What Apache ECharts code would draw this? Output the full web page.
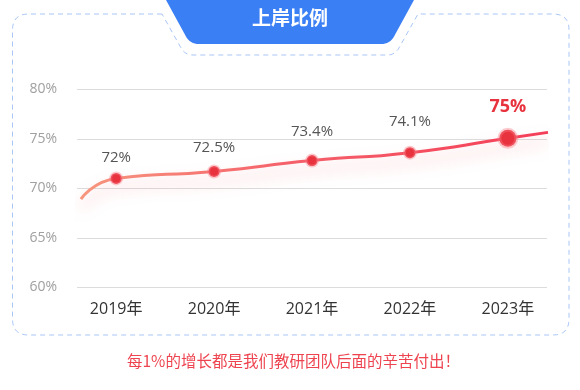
<!DOCTYPE html>
<html>
<head>
<meta charset="utf-8">
<script src="https://cdn.jsdelivr.net/npm/echarts@6/dist/echarts.min.js"></script>
<style>
html,body{margin:0;padding:0;background:#fff;}
#c{width:580px;height:390px;}
</style>
</head>
<body>
<div id="c"></div>
<script>
// ---- data ----
const title = '上岸比例';
const footer = '每1%的增长都是我们教研团队后面的辛苦付出！';
const categories = ['2019年', '2020年', '2021年', '2022年', '2023年'];
const labelValues = [72, 72.5, 73.4, 74.1, 75];          // printed labels
const plotValues = [71.0, 71.7, 72.8, 73.6, 75.05];        // drawn line heights
const leadIn = [-0.36, 68.9];   // line start before first year
const leadOut = [4.41, 75.65];  // line end after last year
const yMin = 60, yMax = 80, yStep = 5;

// ---- style config (not data) ----
const labelLift = [21, 24, 28.5, 31, 31];
const FONT = "'Open Sans','Noto Sans CJK SC',sans-serif";

// rounded-corner outline helper for decorative frame shapes
function rounded(pts, radii, closed) {
  const out = [];
  const n = pts.length;
  for (let i = 0; i < n; i++) {
    const r = radii[i];
    const p = pts[i];
    if (!r || (!closed && (i === 0 || i === n - 1))) { out.push(p); continue; }
    const a = pts[(i - 1 + n) % n], b = pts[(i + 1) % n];
    const da = Math.hypot(a[0] - p[0], a[1] - p[1]), db = Math.hypot(b[0] - p[0], b[1] - p[1]);
    const s = [p[0] + (a[0] - p[0]) * r / da, p[1] + (a[1] - p[1]) * r / da];
    const e = [p[0] + (b[0] - p[0]) * r / db, p[1] + (b[1] - p[1]) * r / db];
    for (let k = 0; k <= 8; k++) {
      const t = k / 8, u = 1 - t;
      out.push([u * u * s[0] + 2 * u * t * p[0] + t * t * e[0], u * u * s[1] + 2 * u * t * p[1] + t * t * e[1]]);
    }
  }
  if (closed) out.push(out[0]);
  return out;
}

const framePts = rounded(
  [[162, 14], [12.5, 14], [12.5, 335], [569, 335], [569, 14], [418, 14], [395, 55], [185, 55]],
  [0, 16, 16, 16, 16, 0, 8, 8], true);
const tabPts = rounded(
  [[166, 0], [414, 0], [390, 44], [190, 44]],
  [0, 0, 9, 9], true);

const chart = echarts.init(document.getElementById('c'), null, {renderer: 'canvas'});

const last = categories.length - 1;
const seriesData = [
  {value: leadIn, symbol: 'none', label: {show: false}}
].concat(categories.map((c, i) => {
  const big = i === last;
  return {
    value: [i, plotValues[i]],
    symbolSize: big ? 17 : 11,
    itemStyle: {color: '#e8333f', borderColor: 'rgba(248,125,135,0.4)', borderWidth: big ? 4 : 3},
    label: {
      show: true,
      position: 'inside',
      offset: [0, -labelLift[i]],
      formatter: labelValues[i] + '%',
      fontFamily: FONT,
      fontSize: big ? 18 : 15,
      fontWeight: big ? 'bold' : 'normal',
      color: big ? '#e8333f' : '#555'
    }
  };
})).concat([{value: leadOut, symbol: 'none', label: {show: false}}]);

chart.setOption({
  animation: false,
  grid: {left: 77, right: 33, top: 89.3, bottom: 102.7},
  xAxis: {
    type: 'value', min: -0.4, max: 4.4,
    axisLine: {show: false}, axisTick: {show: false}, splitLine: {show: false},
    axisLabel: {
      customValues: categories.map((c, i) => i),
      formatter: v => categories[Math.round(v)] || '',
      fontFamily: FONT, fontSize: 16, color: '#333', margin: 14
    }
  },
  yAxis: {
    type: 'value', min: yMin, max: yMax, interval: yStep,
    axisLine: {show: false}, axisTick: {show: false},
    splitLine: {lineStyle: {color: '#dcdcdc', width: 1}},
    axisLabel: {formatter: '{value}%', fontFamily: FONT, fontSize: 14, color: '#a0a0a0', margin: 20}
  },
  graphic: [
    {type: 'polyline', shape: {points: framePts}, style: {fill: null, stroke: '#a9c6f7', lineWidth: 1, lineDash: [5, 4]}, silent: true},
    {type: 'polygon', shape: {points: tabPts}, style: {fill: '#3b7ff5'}, silent: true},
    {type: 'text', left: 'center', top: 8, style: {text: title, fill: '#fff', font: "bold 19px 'Noto Sans CJK SC',sans-serif"}, silent: true},
    {type: 'text', left: 127, top: 353, style: {text: footer, fill: '#ee4450', font: "15.5px 'Noto Sans CJK SC',sans-serif"}, silent: true}
  ],
  series: [{
    type: 'line',
    smooth: 0.6,
    data: seriesData,
    symbol: 'circle',
    lineStyle: {
      width: 3,
      color: new echarts.graphic.LinearGradient(0, 0, 1, 0, [
        {offset: 0, color: '#f7977f'},
        {offset: 0.45, color: '#f5606a'},
        {offset: 1, color: '#f43e58'}
      ]),
      shadowColor: 'rgba(240,70,80,0.35)',
      shadowBlur: 16,
      shadowOffsetY: 9
    },
    emphasis: {disabled: true},
    z: 3
  }]
});
</script>
</body>
</html>
